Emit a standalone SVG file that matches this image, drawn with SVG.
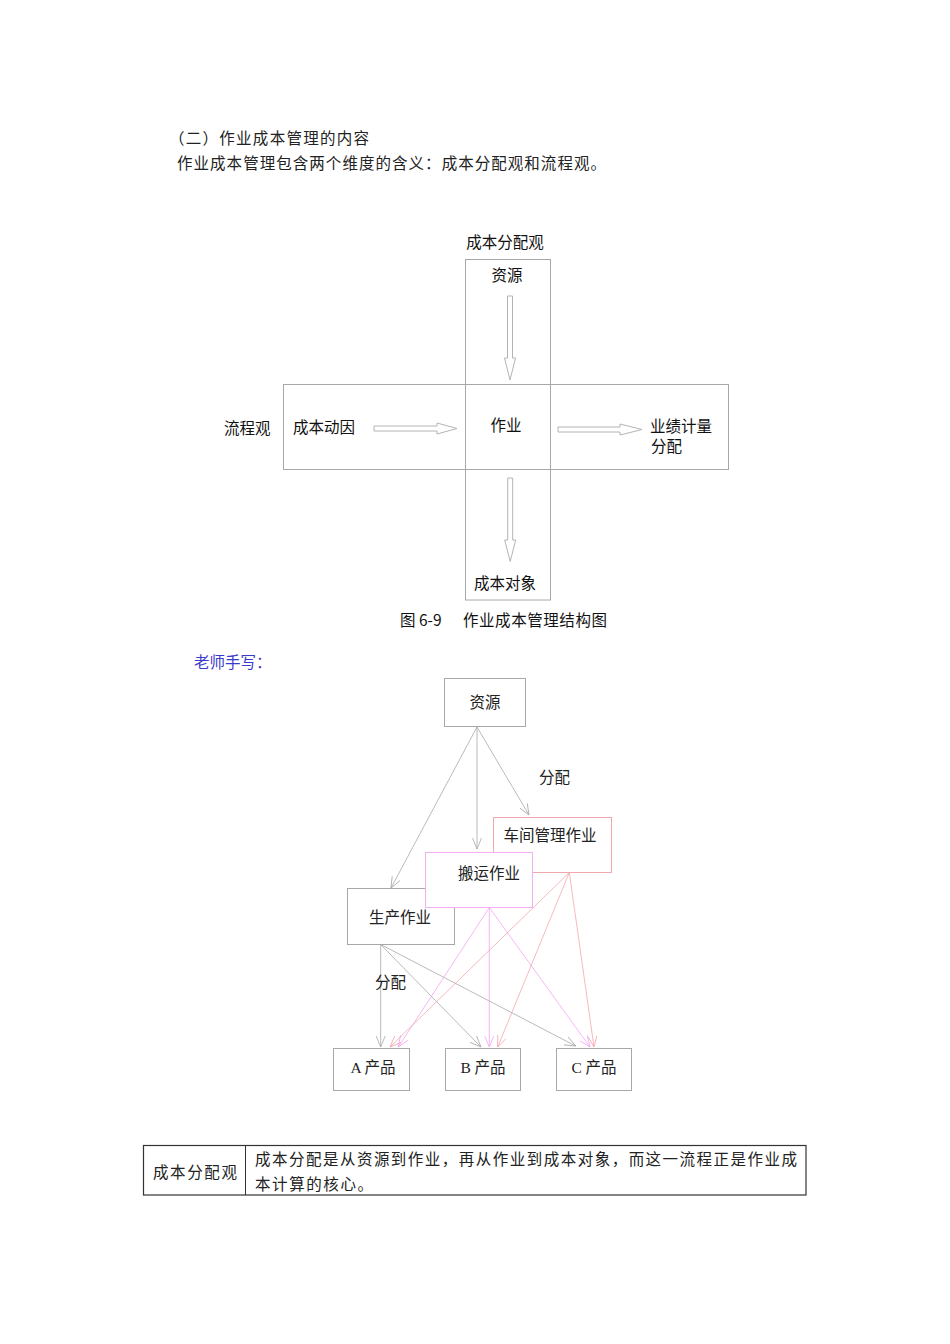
<svg xmlns="http://www.w3.org/2000/svg" width="950" height="1344" viewBox="0 0 950 1344">
<style>
.serif{font-family:"Liberation Serif","Noto Sans CJK SC",serif;font-size:15.5px;fill:#222}
.sans{font-family:"Noto Sans CJK SC","Liberation Sans",sans-serif;font-size:15.5px;fill:#111}
.box{fill:none;stroke:#a8a8a8;stroke-width:1}
.blk{fill:#fff;stroke:#b4b4b4;stroke-width:1}
.g{stroke:#a8a8a8;stroke-width:0.8;fill:none;marker-end:url(#ag)}
.p{stroke:#f2a6f2;stroke-width:0.8;fill:none;marker-end:url(#ap)}
.s{stroke:#f2a8ac;stroke-width:0.8;fill:none;marker-end:url(#as)}
</style>
<defs>
<marker id="ag" viewBox="0 0 12 10" refX="11" refY="5" markerWidth="12" markerHeight="10" markerUnits="userSpaceOnUse" orient="auto"><path d="M0,0.5 L11,5 L0,9.5" fill="none" stroke="#a8a8a8" stroke-width="0.8"/></marker>
<marker id="ap" viewBox="0 0 12 10" refX="11" refY="5" markerWidth="12" markerHeight="10" markerUnits="userSpaceOnUse" orient="auto"><path d="M0,0.5 L11,5 L0,9.5" fill="none" stroke="#f2a6f2" stroke-width="0.8"/></marker>
<marker id="as" viewBox="0 0 12 10" refX="11" refY="5" markerWidth="12" markerHeight="10" markerUnits="userSpaceOnUse" orient="auto"><path d="M0,0.5 L11,5 L0,9.5" fill="none" stroke="#f2a8ac" stroke-width="0.8"/></marker>
</defs>
<rect width="950" height="1344" fill="#fff"/>

<g id="intro">
<text class="serif" x="169" y="144" textLength="200" font-size="16">（二）作业成本管理的内容</text>
<text class="serif" x="177" y="169" textLength="429" font-size="16">作业成本管理包含两个维度的含义：成本分配观和流程观。</text>
</g>

<!-- Figure 6-9 -->
<g id="fig1">
<g id="vbox"><rect x="465.5" y="259.5" width="85" height="340.5" class="box"/></g>
<g id="hbox"><rect x="283.5" y="384.5" width="445" height="85" class="box"/></g>
<g id="fig1-labels">
<text class="sans" x="505" y="248" text-anchor="middle" font-size="16">成本分配观</text>
<text class="sans" x="507" y="281" text-anchor="middle" font-size="16">资源</text>
<text class="sans" x="224" y="434" font-size="16">流程观</text>
<text class="sans" x="293" y="433" font-size="16">成本动因</text>
<text class="sans" x="506" y="431" text-anchor="middle" font-size="16">作业</text>
<text class="sans" x="650" y="432" font-size="16">业绩计量</text>
<text class="sans" x="651" y="452" font-size="14">分配</text>
<text class="sans" x="505" y="589" text-anchor="middle" font-size="16">成本对象</text>
<text class="sans" x="400" y="626" font-size="15.5">图 6-9</text>
<text class="sans" x="463" y="626" font-size="15.5" textLength="144">作业成本管理结构图</text>
</g>
<g id="fig1-arrows">
<polygon class="blk" points="507.5,296 512.5,296 512.5,358 515.5,358 510,380 504.5,358 507.5,358"/>
<polygon class="blk" points="507.7,478 512.7,478 512.7,540 515.7,540 510.2,561.5 504.7,540 507.7,540"/>
<polygon class="blk" points="374,426 437,426 437,423 457,428.5 437,434 437,431 374,431"/>
<polygon class="blk" points="558,427 620,427 620,424 642,429.5 620,435 620,432 558,432"/>
</g>
</g>

<text x="194" y="668" style="font-family:'Liberation Serif','Noto Sans CJK SC',serif;font-size:15.5px;fill:#3a3acc">老师手写：</text>

<!-- Handwritten diagram -->
<g id="n-res"><rect x="444.5" y="678.5" width="81" height="48" class="box"/><text class="serif" x="485" y="708" text-anchor="middle">资源</text></g>
<g id="n-shop"><rect x="493.5" y="817.5" width="118" height="55" fill="#fff" stroke="#f2a8ac"/><text class="serif" x="550" y="841" text-anchor="middle">车间管理作业</text></g>
<g id="n-prod"><rect x="347.5" y="888.5" width="107" height="56" class="box"/><text class="serif" x="400" y="923" text-anchor="middle">生产作业</text></g>
<g id="n-move"><rect x="425.5" y="852.5" width="107" height="55" fill="#fff" stroke="#f2b0f2"/><text class="serif" x="489" y="879" text-anchor="middle">搬运作业</text></g>
<g id="n-a"><rect x="333.5" y="1048.5" width="76" height="42" class="box"/><text class="serif" x="373" y="1073" text-anchor="middle">A 产品</text></g>
<g id="n-b"><rect x="445.5" y="1048.5" width="75" height="42" class="box"/><text class="serif" x="483" y="1073" text-anchor="middle">B 产品</text></g>
<g id="n-c"><rect x="556.5" y="1048.5" width="75" height="42" class="box"/><text class="serif" x="594" y="1073" text-anchor="middle">C 产品</text></g>

<g id="connectors">
<line class="g" x1="477" y1="727" x2="391" y2="888"/>
<line class="g" x1="477" y1="727" x2="477" y2="849"/>
<line class="g" x1="477" y1="727" x2="529" y2="815"/>
<line class="g" x1="380.7" y1="944.5" x2="380.7" y2="1047"/>
<line class="g" x1="380.7" y1="944.5" x2="481" y2="1047"/>
<line class="g" x1="380.7" y1="944.5" x2="575.7" y2="1046"/>
<line class="p" x1="489.3" y1="907.5" x2="398.3" y2="1047"/>
<line class="p" x1="489.3" y1="907.5" x2="489.3" y2="1047"/>
<line class="p" x1="489.3" y1="907.5" x2="590" y2="1047"/>
<line class="s" x1="569.3" y1="872.5" x2="390" y2="1047"/>
<line class="s" x1="569.3" y1="872.5" x2="497.7" y2="1047"/>
<line class="s" x1="569.3" y1="872.5" x2="594" y2="1047"/>
</g>
<g id="edge-labels">
<text class="serif" x="539" y="783">分配</text>
<text class="serif" x="375" y="988">分配</text>
</g>

<g id="table">
<rect x="143.5" y="1145.5" width="662.5" height="49.5" fill="none" stroke="#333" stroke-width="1.2"/>
<line x1="245.5" y1="1145.5" x2="245.5" y2="1195" stroke="#333" stroke-width="1"/>
<text class="serif" x="153" y="1178" font-size="15" textLength="84">成本分配观</text>
<text class="serif" x="255" y="1165" font-size="15.5" textLength="542">成本分配是从资源到作业，再从作业到成本对象，而这一流程正是作业成</text>
<text class="serif" x="255" y="1190" font-size="15.5" textLength="118">本计算的核心。</text>
</g>
</svg>
